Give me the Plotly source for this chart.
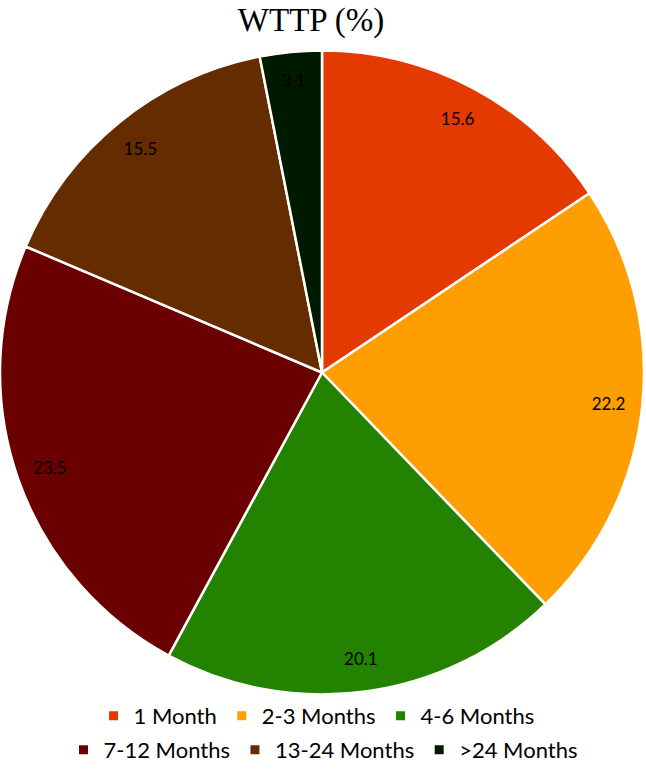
import plotly.graph_objects as go

# WTTP share by waiting time band
labels = ["1 Month", "2-3 Months", "4-6 Months", "7-12 Months", "13-24 Months", ">24 Months"]
values = [15.6, 22.2, 20.1, 23.5, 15.5, 3.1]
colors = ["#E43A00", "#FF9E00", "#238200", "#6B0000", "#652C00", "#001A00"]

W, H = 646, 771
pie_dom = dict(x=[0, 644 / W], y=[1 - 695 / H, 1 - 50 / H])

fig = go.Figure()

# the coloured pie itself
fig.add_trace(go.Pie(
    labels=labels, values=values, sort=False, direction="clockwise", rotation=0,
    marker=dict(colors=colors, line=dict(color="white", width=2.5)),
    textinfo="none", domain=pie_dom, hoverinfo="label+value", showlegend=False,
))

# transparent ring on top, only to push the numbers out towards the rim
fig.add_trace(go.Pie(
    labels=labels, values=values, sort=False, direction="clockwise", rotation=0,
    hole=0.79, marker=dict(colors=["rgba(0,0,0,0)"] * len(values), line=dict(width=0)),
    text=[f"{v:.1f}" for v in values], textinfo="text", textposition="inside",
    insidetextorientation="horizontal",
    textfont=dict(family="Lato", size=17, color="black"),
    domain=pie_dom, showlegend=False, hoverinfo="skip",
))

# legend entries, split over two centred rows like the original
for i, (lab, col) in enumerate(zip(labels, colors)):
    fig.add_trace(go.Scatter(
        x=[None], y=[None], mode="markers", name=lab,
        marker=dict(symbol="square", size=9, color=col),
        legend="legend" if i < 3 else "legend2",
    ))

legend_font = dict(family="Lato", size=22, color="black")
fig.update_layout(
    width=W, height=H,
    margin=dict(l=0, r=0, t=0, b=0),
    paper_bgcolor="white", plot_bgcolor="white",
    xaxis=dict(visible=False), yaxis=dict(visible=False),
    title=dict(text="WTTP (%)", x=311 / W, xanchor="center", y=1 - 19 / H, yanchor="middle",
               font=dict(family="Liberation Serif", size=33, color="black")),
    legend=dict(orientation="h", x=0.49, xanchor="center", y=34 / H, yanchor="bottom",
                font=legend_font, traceorder="normal", itemclick=False),
    legend2=dict(orientation="h", x=0.5, xanchor="center", y=0, yanchor="bottom",
                 font=legend_font, traceorder="normal", itemclick=False),
)

# drop the browser's default 8px body margin so the figure sits at the page corner
fig.write_html("out.html", config={"displayModeBar": False},
               post_script="document.body.style.margin='0';")
